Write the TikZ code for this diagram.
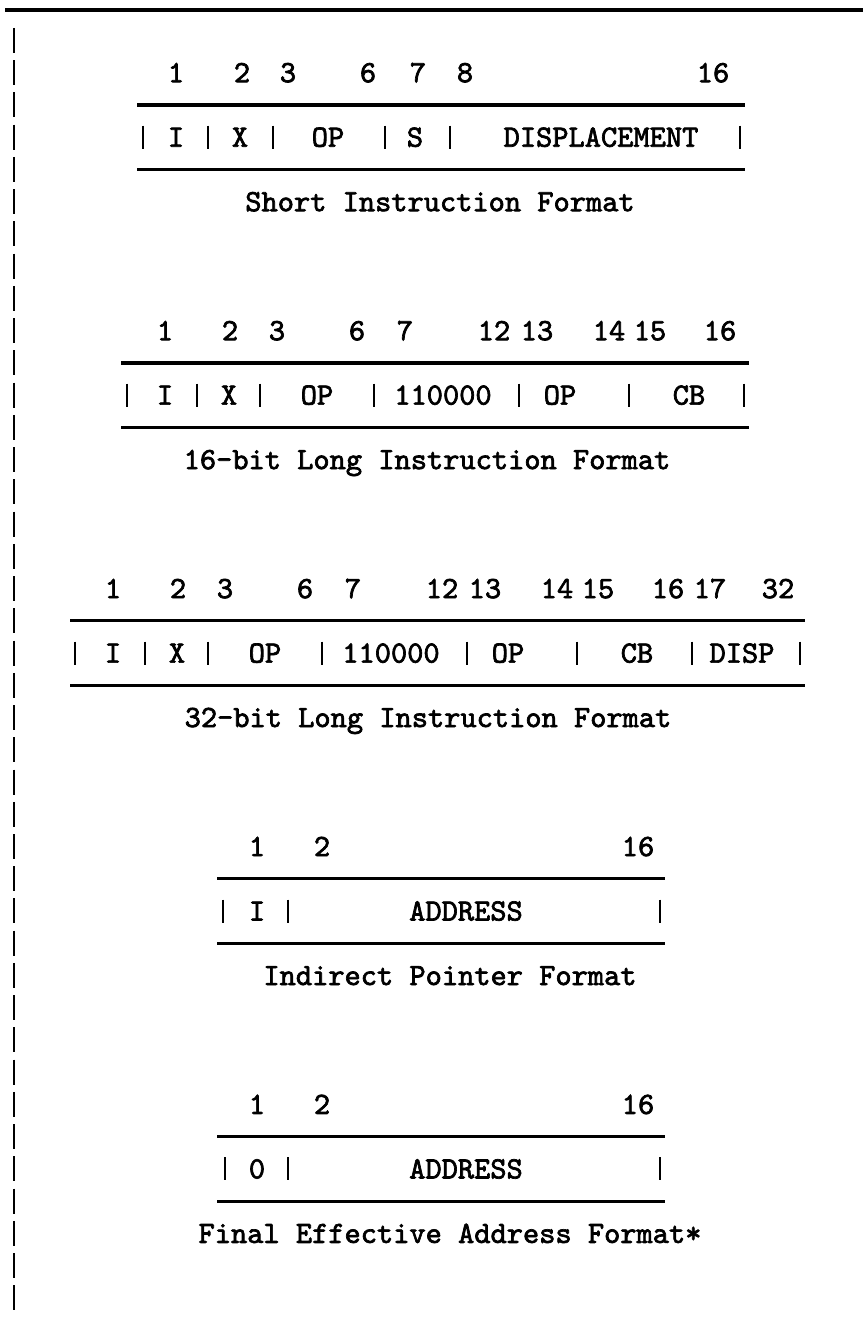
\documentclass[tikz,border=0pt]{standalone}
\usepackage{fontspec}
\newfontfamily\twfont{lmmono10-regular}[Extension=.otf, FakeBold=2.2]
\begin{document}
\begin{tikzpicture}[x=1pt,y=-1pt,
  txt/.style={font=\fontsize{30.9}{32}\selectfont\twfont, inner sep=0pt, anchor=base},
  rulel/.style={line width=3.2pt},
  barl/.style={line width=2.8pt}]
\useasboundingbox (0,0) rectangle (863,1321);
\fill[white] (0,0) rectangle (863,1321);
% top rule and left margin bars
\draw[line width=3.6pt] (5,10) -- (863,10);
\foreach \k in {0,...,39} \draw[barl] (14,{28+32.24*\k}) -- (14,{53+32.24*\k});

% ---------- Block 1: Short Instruction Format ----------
\node[txt] (a1) at (176,82.2) {1};
\node[txt] (a2) at (242,82.2) {2};
\node[txt] (a3) at (288,82.2) {3};
\node[txt] (a6) at (368,82.2) {6};
\node[txt] (a7) at (418,82.2) {7};
\node[txt] (a8) at (465,82.2) {8};
\node[txt] (a16) at (713,82.2) {16};
\draw[rulel] (137,105) -- (745,105);
\foreach \x in {143,208,273,385,450,740} \draw[barl] (\x,125.7) -- (\x,148.7);
\node[txt] (aI) at (176,146.7) {I};
\node[txt] (aX) at (240,146.7) {X};
\node[txt] (aOP) at (328,146.7) {OP};
\node[txt] (aS) at (415,146.7) {S};
\node[txt] (aD) at (601,146.7) {DISPLACEMENT};
\draw[rulel] (137,169.5) -- (745,169.5);
\node[txt] (acap) at (440,211.2) {Short Instruction Format};

% ---------- Block 2: 16-bit Long Instruction Format ----------
\node[txt] (b1) at (165,340.2) {1};
\node[txt] (b2) at (230,340.2) {2};
\node[txt] (b3) at (277,340.2) {3};
\node[txt] (b6) at (357,340.2) {6};
\node[txt] (b7) at (405,340.2) {7};
\node[txt] (b12) at (494,340.2) {12};
\node[txt] (b13) at (537,340.2) {13};
\node[txt] (b14) at (609,340.2) {14};
\node[txt] (b15) at (650,340.2) {15};
\node[txt] (b16) at (720,340.2) {16};
\draw[rulel] (121,362.9) -- (749,362.9);
\foreach \x in {127,197,260,374,519,629,744} \draw[barl] (\x,383.6) -- (\x,406.6);
\node[txt] (bI) at (165,404.6) {I};
\node[txt] (bX) at (229,404.6) {X};
\node[txt] (bOP) at (317,404.6) {OP};
\node[txt] (bB) at (443,404.6) {110000};
\node[txt] (bOP2) at (560,404.6) {OP};
\node[txt] (bCB) at (689,404.6) {CB};
\draw[rulel] (121,427.4) -- (749,427.4);
\node[txt] (bcap) at (427,469.1) {16-bit Long Instruction Format};

% ---------- Block 3: 32-bit Long Instruction Format ----------
\node[txt] (c1) at (113,598.1) {1};
\node[txt] (c2) at (178,598.1) {2};
\node[txt] (c3) at (225,598.1) {3};
\node[txt] (c6) at (305,598.1) {6};
\node[txt] (c7) at (353,598.1) {7};
\node[txt] (c12) at (442,598.1) {12};
\node[txt] (c13) at (485,598.1) {13};
\node[txt] (c14) at (557,598.1) {14};
\node[txt] (c15) at (598,598.1) {15};
\node[txt] (c16) at (668,598.1) {16};
\node[txt] (c17) at (710,598.1) {17};
\node[txt] (c32) at (778,598.1) {32};
\draw[rulel] (70,620.8) -- (805,620.8);
\foreach \x in {75,145,208,322,467,577,692,800} \draw[barl] (\x,641.6) -- (\x,664.6);
\node[txt] (cI) at (113,662.6) {I};
\node[txt] (cX) at (177,662.6) {X};
\node[txt] (cOP) at (265,662.6) {OP};
\node[txt] (cB) at (391,662.6) {110000};
\node[txt] (cOP2) at (508,662.6) {OP};
\node[txt] (cCB) at (637,662.6) {CB};
\node[txt] (cD) at (742,662.6) {DISP};
\draw[rulel] (70,685.3) -- (805,685.3);
\node[txt] (ccap) at (428,727.0) {32-bit Long Instruction Format};

% ---------- Block 4: Indirect Pointer Format ----------
\node[txt] (d1) at (257,856.0) {1};
\node[txt] (d2) at (322,856.0) {2};
\node[txt] (d16) at (638,856.0) {16};
\draw[rulel] (217,878.7) -- (665,878.7);
\foreach \x in {223,288,660} \draw[barl] (\x,899.5) -- (\x,922.5);
\node[txt] (dI) at (257,920.5) {I};
\node[txt] (dA) at (466,920.5) {ADDRESS};
\draw[rulel] (217,943.2) -- (665,943.2);
\node[txt] (dcap) at (450,985.0) {Indirect Pointer Format};

% ---------- Block 5: Final Effective Address Format ----------
\node[txt] (e1) at (257,1113.9) {1};
\node[txt] (e2) at (322,1113.9) {2};
\node[txt] (e16) at (638,1113.9) {16};
\draw[rulel] (217,1136.7) -- (665,1136.7);
\foreach \x in {225,288,660} \draw[barl] (\x,1157.4) -- (\x,1180.4);
\node[txt] (e0) at (257,1178.4) {0};
\node[txt] (eA) at (466,1178.4) {ADDRESS};
\draw[rulel] (217,1201.1) -- (665,1201.1);
\node[txt] (ecap) at (450,1242.9) {Final Effective Address Format*};
\end{tikzpicture}
\end{document}
